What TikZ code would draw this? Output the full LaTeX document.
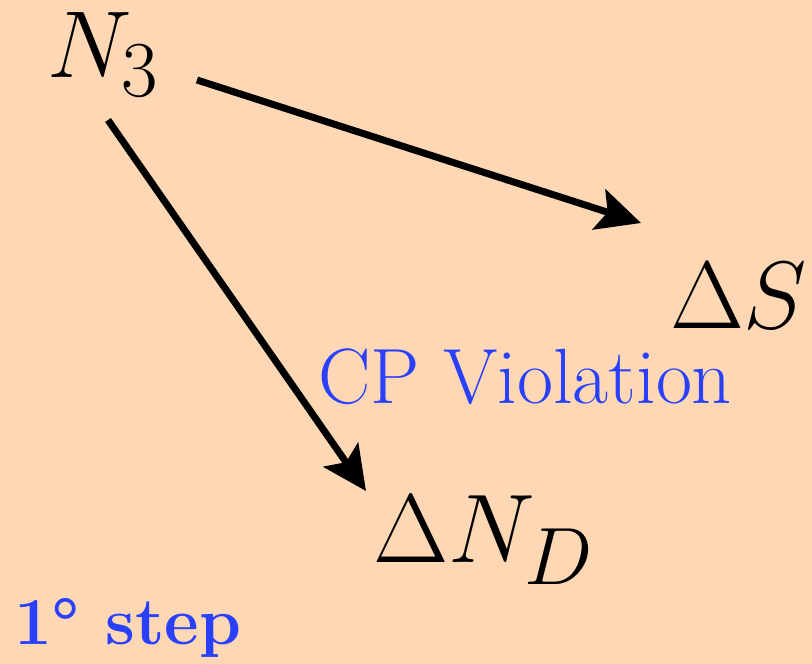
\documentclass[tikz,border=0pt]{standalone}
\usetikzlibrary{arrows.meta}
\usepackage{graphicx}
\definecolor{bgpeach}{HTML}{FED7B4}
\definecolor{cpblue}{HTML}{2A40FF}
\tikzset{
  lbl/.style={anchor=base west, inner sep=0pt, outer sep=0pt},
  bluelbl/.style={lbl, text=cpblue},
  bigarrow/.style={line width=7pt, -{Stealth[length=44pt,width=42pt,inset=9pt]}}
}
\begin{document}
\begin{tikzpicture}[x=1pt,y=1pt]
  \fill[bgpeach] (0,0) rectangle (812,664);
  \useasboundingbox (0,0) rectangle (812,664);
  \node[lbl] (n3) at (47,586) {\scalebox{3.82}{\Huge$N_3$}};
  \node[lbl] (ds) at (670,335) {\scalebox{3.85}{\Huge$\Delta S$}};
  \node[lbl] (dnd) at (373,101) {\scalebox{3.92}{\Huge$\Delta N_D$}};
  \node[bluelbl] (cp) at (318,260) {\scalebox{3.15}{\Huge CP Violation}};
  \node[bluelbl] (step1) at (14,19) {\scalebox{2.7}{\Huge\bfseries 1\textdegree{} step}};
  \coordinate (a1s) at (197,584);
  \coordinate (a1e) at (641,441);
  \coordinate (a2s) at (108,544);
  \coordinate (a2e) at (366,173);
  \draw[bigarrow] (a1s) -- (a1e);
  \draw[bigarrow] (a2s) -- (a2e);
\end{tikzpicture}
\end{document}
